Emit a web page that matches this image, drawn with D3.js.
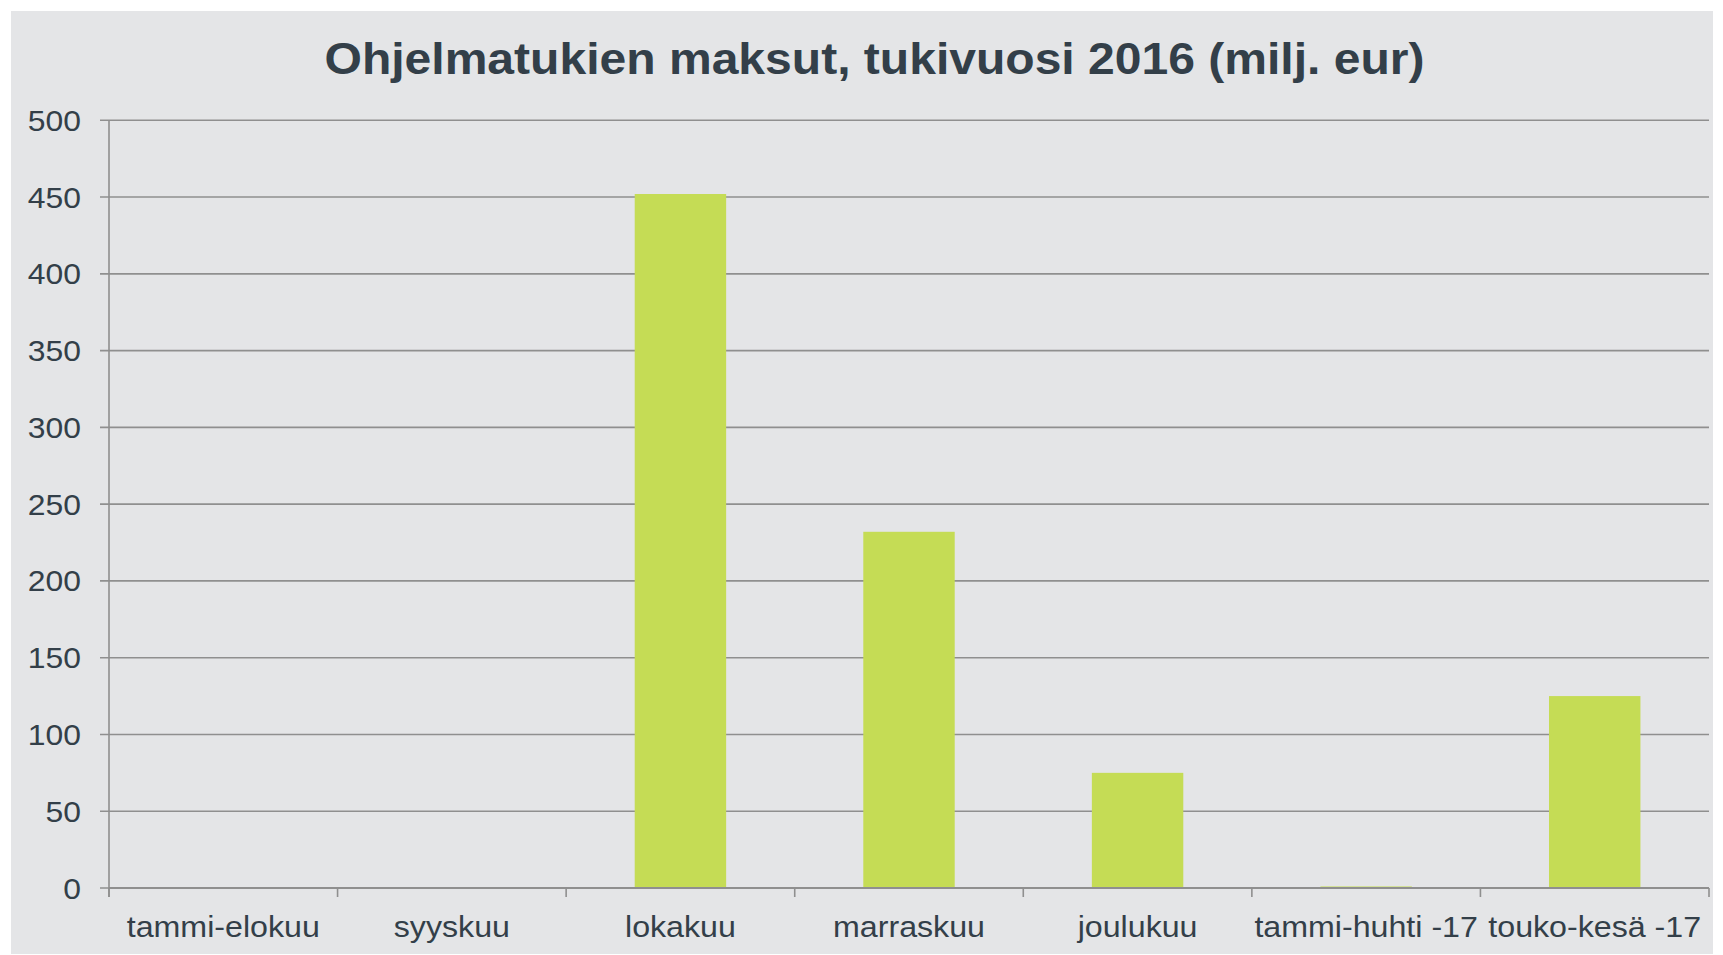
<!DOCTYPE html>
<html>
<head>
<meta charset="utf-8">
<script src="https://cdn.jsdelivr.net/npm/d3@7"></script>
<style>
  body { margin: 0; background: #ffffff; }
  svg { display: block; }
</style>
</head>
<body>
<svg id="chart" width="1723" height="955"></svg>
<script>
const title = "Ohjelmatukien maksut, tukivuosi 2016 (milj. eur)";
const categories = ["tammi-elokuu", "syyskuu", "lokakuu", "marraskuu", "joulukuu", "tammi-huhti -17", "touko-kesä -17"];
const payments = [0, 0, 452, 232, 75, 1, 125];
const yTicks = [0, 50, 100, 150, 200, 250, 300, 350, 400, 450, 500];

const textColor = "#333f49";
const gridColor = "#8f8f8f";
const barColor = "#c5dc55";
const stretch = 1.08; // the original glyphs are slightly wider than tall

const svg = d3.select("#chart");

svg.append("rect")
  .attr("x", 11).attr("y", 11)
  .attr("width", 1702).attr("height", 943)
  .attr("fill", "#e4e5e7");

const plot = { left: 109, right: 1709, top: 120.3, bottom: 888 };

const x = d3.scaleBand().domain(categories).range([plot.left, plot.right]).padding(0);
const y = d3.scaleLinear().domain([0, 500]).range([plot.bottom, plot.top]);

// gridlines + y labels
const yAxis = svg.append("g");
yAxis.selectAll("line")
  .data(yTicks)
  .enter()
  .append("line")
  .attr("x1", plot.left - 9)
  .attr("x2", plot.right)
  .attr("y1", (d) => y(d))
  .attr("y2", (d) => y(d))
  .attr("stroke", gridColor)
  .attr("stroke-width", 1.6);

yAxis.selectAll("text")
  .data(yTicks)
  .enter()
  .append("text")
  .attr("transform", (d) => `translate(81, ${y(d) + 10.5}) scale(${stretch},1)`)
  .attr("text-anchor", "end")
  .attr("font-family", "Liberation Sans, Arial, sans-serif")
  .attr("font-size", 29.5)
  .attr("fill", textColor)
  .text((d) => d);

// bars
svg.selectAll(".bar")
  .data(payments)
  .enter()
  .append("rect")
  .attr("class", "bar")
  .attr("x", (d, i) => x(categories[i]) + x.bandwidth() * 0.3)
  .attr("width", x.bandwidth() * 0.4)
  .attr("y", (d) => y(d))
  .attr("height", (d) => plot.bottom - y(d))
  .attr("fill", barColor);

// x axis line, ticks and labels
svg.append("line")
  .attr("x1", plot.left).attr("x2", plot.right)
  .attr("y1", plot.bottom).attr("y2", plot.bottom)
  .attr("stroke", gridColor)
  .attr("stroke-width", 2);

svg.append("line")
  .attr("x1", plot.left).attr("x2", plot.left)
  .attr("y1", plot.top).attr("y2", plot.bottom + 9)
  .attr("stroke", gridColor)
  .attr("stroke-width", 1.6);

const edges = categories.map((c) => x(c)).concat([plot.right]);
svg.selectAll(".xtick")
  .data(edges)
  .enter()
  .append("line")
  .attr("class", "xtick")
  .attr("x1", (d) => d).attr("x2", (d) => d)
  .attr("y1", plot.bottom).attr("y2", plot.bottom + 9)
  .attr("stroke", gridColor)
  .attr("stroke-width", 1.6);

svg.selectAll(".xlabel")
  .data(categories)
  .enter()
  .append("text")
  .attr("class", "xlabel")
  .attr("transform", (d) => `translate(${x(d) + x.bandwidth() / 2}, 936.5) scale(${stretch},1)`)
  .attr("text-anchor", "middle")
  .attr("font-family", "Liberation Sans, Arial, sans-serif")
  .attr("font-size", 29.8)
  .attr("fill", textColor)
  .text((d) => d);

// title
svg.append("text")
  .attr("transform", `translate(874.5, 74) scale(${stretch},1)`)
  .attr("text-anchor", "middle")
  .attr("font-family", "Liberation Sans, Arial, sans-serif")
  .attr("font-weight", "bold")
  .attr("font-size", 44.5)
  .attr("fill", textColor)
  .text(title);
</script>
</body>
</html>
